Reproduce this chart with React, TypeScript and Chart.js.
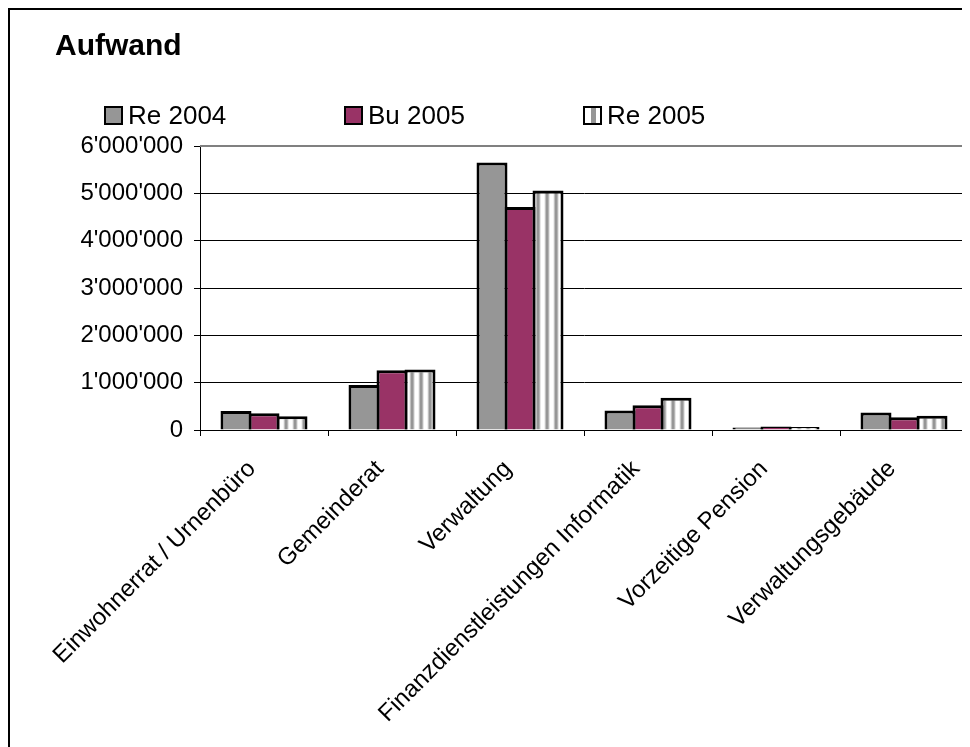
import { useEffect, useRef } from "react";
import { Chart, registerables } from "chart.js";

Chart.register(...registerables);

const categories = [
  "Einwohnerrat / Urnenbüro",
  "Gemeinderat",
  "Verwaltung",
  "Finanzdienstleistungen Informatik",
  "Vorzeitige Pension",
  "Verwaltungsgebäude",
];
const seriesNames = ["Re 2004", "Bu 2005", "Re 2005"];
const re2004 = [400000, 950000, 5650000, 410000, 55000, 370000];
const bu2005 = [355000, 1260000, 4710000, 525000, 75000, 270000];
const re2005 = [290000, 1280000, 5060000, 680000, 65000, 300000];
const yMin = 0;
const yMax = 6000000;
const yStep = 1000000;
const titleText = "Aufwand";

const FONT = "Arial, 'Liberation Sans', sans-serif";
const GRAY = "#969696";
const PURPLE = "#993366";

function fmt(v: number): string {
  return String(Math.round(v)).replace(/\B(?=(\d{3})+(?!\d))/g, "'");
}

function makeStripe(): CanvasPattern | string {
  const c = document.createElement("canvas");
  c.width = 9;
  c.height = 9;
  const g = c.getContext("2d");
  if (!g) return "#ffffff";
  const cols = ["#ffffff", "#ffffff", "#ffffff", "#f0f0f0", "#c0c0c0", GRAY, GRAY, "#b4b4b4", "#e6e6e6"];
  cols.forEach((col, i) => {
    g.fillStyle = col;
    g.fillRect(i, 0, 1, 9);
  });
  const p = g.createPattern(c, "repeat");
  return p || "#ffffff";
}

export default function App() {
  const ref = useRef<HTMLCanvasElement | null>(null);

  useEffect(() => {
    const canvas = ref.current;
    if (!canvas) return;
    const stripe = makeStripe();

    const decor = {
      id: "decor",
      afterDatasetsDraw(chart: any) {
        const { ctx, chartArea: a } = chart;
        ctx.save();
        ctx.strokeStyle = "#808080";
        ctx.lineWidth = 2;
        ctx.beginPath();
        ctx.moveTo(a.left, a.top);
        ctx.lineTo(a.right, a.top);
        ctx.lineTo(a.right, a.bottom);
        ctx.stroke();
        ctx.restore();
      },
      afterDraw(chart: any) {
        const { ctx } = chart;
        ctx.save();
        ctx.fillStyle = "#000";
        ctx.textBaseline = "alphabetic";
        ctx.textAlign = "left";
        ctx.font = `bold 30px ${FONT}`;
        ctx.fillText(titleText, 45, 45);

        const xs = [94, 334, 573];
        const fills = [GRAY, PURPLE, "stripe"];
        ctx.font = `26px ${FONT}`;
        seriesNames.forEach((name, i) => {
          const x = xs[i];
          const y = 96;
          if (fills[i] === "stripe") {
            ctx.fillStyle = "#ffffff";
            ctx.fillRect(x, y, 18, 18);
            ctx.fillStyle = GRAY;
            ctx.fillRect(x + 8, y, 5, 18);
          } else {
            ctx.fillStyle = fills[i];
            ctx.fillRect(x, y, 18, 18);
          }
          ctx.strokeStyle = "#000";
          ctx.lineWidth = 2;
          ctx.strokeRect(x + 1, y + 1, 17, 17);
          ctx.fillStyle = "#000";
          ctx.fillText(name, x + 24, 114);
        });
        ctx.restore();
      },
    };

    const chart = new Chart(canvas, {
      type: "bar",
      data: {
        labels: categories,
        datasets: [
          {
            label: seriesNames[0],
            data: re2004,
            backgroundColor: GRAY,
            borderColor: "#000",
            borderWidth: 3,
          },
          {
            label: seriesNames[1],
            data: bu2005,
            backgroundColor: PURPLE,
            borderColor: "#000",
            borderWidth: 3,
          },
          {
            label: seriesNames[2],
            data: re2005,
            backgroundColor: stripe as any,
            borderColor: "#000",
            borderWidth: 3,
          },
        ],
      },
      options: {
        animation: false,
        responsive: false,
        events: [],
        datasets: {
          bar: {
            categoryPercentage: 0.65625,
            barPercentage: 31 / 28,
            inflateAmount: 0,
          },
        },
        layout: {
          padding: { top: 136, right: 12, bottom: 40, left: 0 },
        },
        plugins: {
          legend: { display: false },
          title: { display: false },
          tooltip: { enabled: false },
        },
        scales: {
          x: {
            grid: {
              display: true,
              drawOnChartArea: false,
              offset: true,
              tickLength: 6,
              color: "#000",
              lineWidth: 1,
            },
            border: { color: "#000", width: 1 },
            ticks: {
              font: { family: FONT, size: 24 },
              color: "#000",
              minRotation: 45,
              maxRotation: 45,
              autoSkip: false,
              padding: 19,
              labelOffset: -12,
            },
            afterFit: (s: any) => {
              s.height = 300;
            },
          },
          y: {
            min: yMin,
            max: yMax,
            grid: { color: "#000", lineWidth: 1, tickLength: 6 },
            border: { color: "#000", width: 1 },
            ticks: {
              stepSize: yStep,
              font: { family: FONT, size: 24 },
              color: "#000",
              padding: 11,
              callback: (v: any) => fmt(Number(v)),
            },
            afterFit: (s: any) => {
              s.width = 190;
            },
          },
        },
      },
      plugins: [decor],
    });

    return () => chart.destroy();
  }, []);

  return (
    <>
      <style>{"html,body{overflow:hidden}"}</style>
      <div
        style={{
          width: 990,
          height: 800,
          border: "2px solid #000",
          boxSizing: "border-box",
          background: "#fff",
        }}
      >
        <canvas
          ref={ref}
          width={970}
          height={760}
          style={{ display: "block", width: 970, height: 760 }}
        />
      </div>
    </>
  );
}
